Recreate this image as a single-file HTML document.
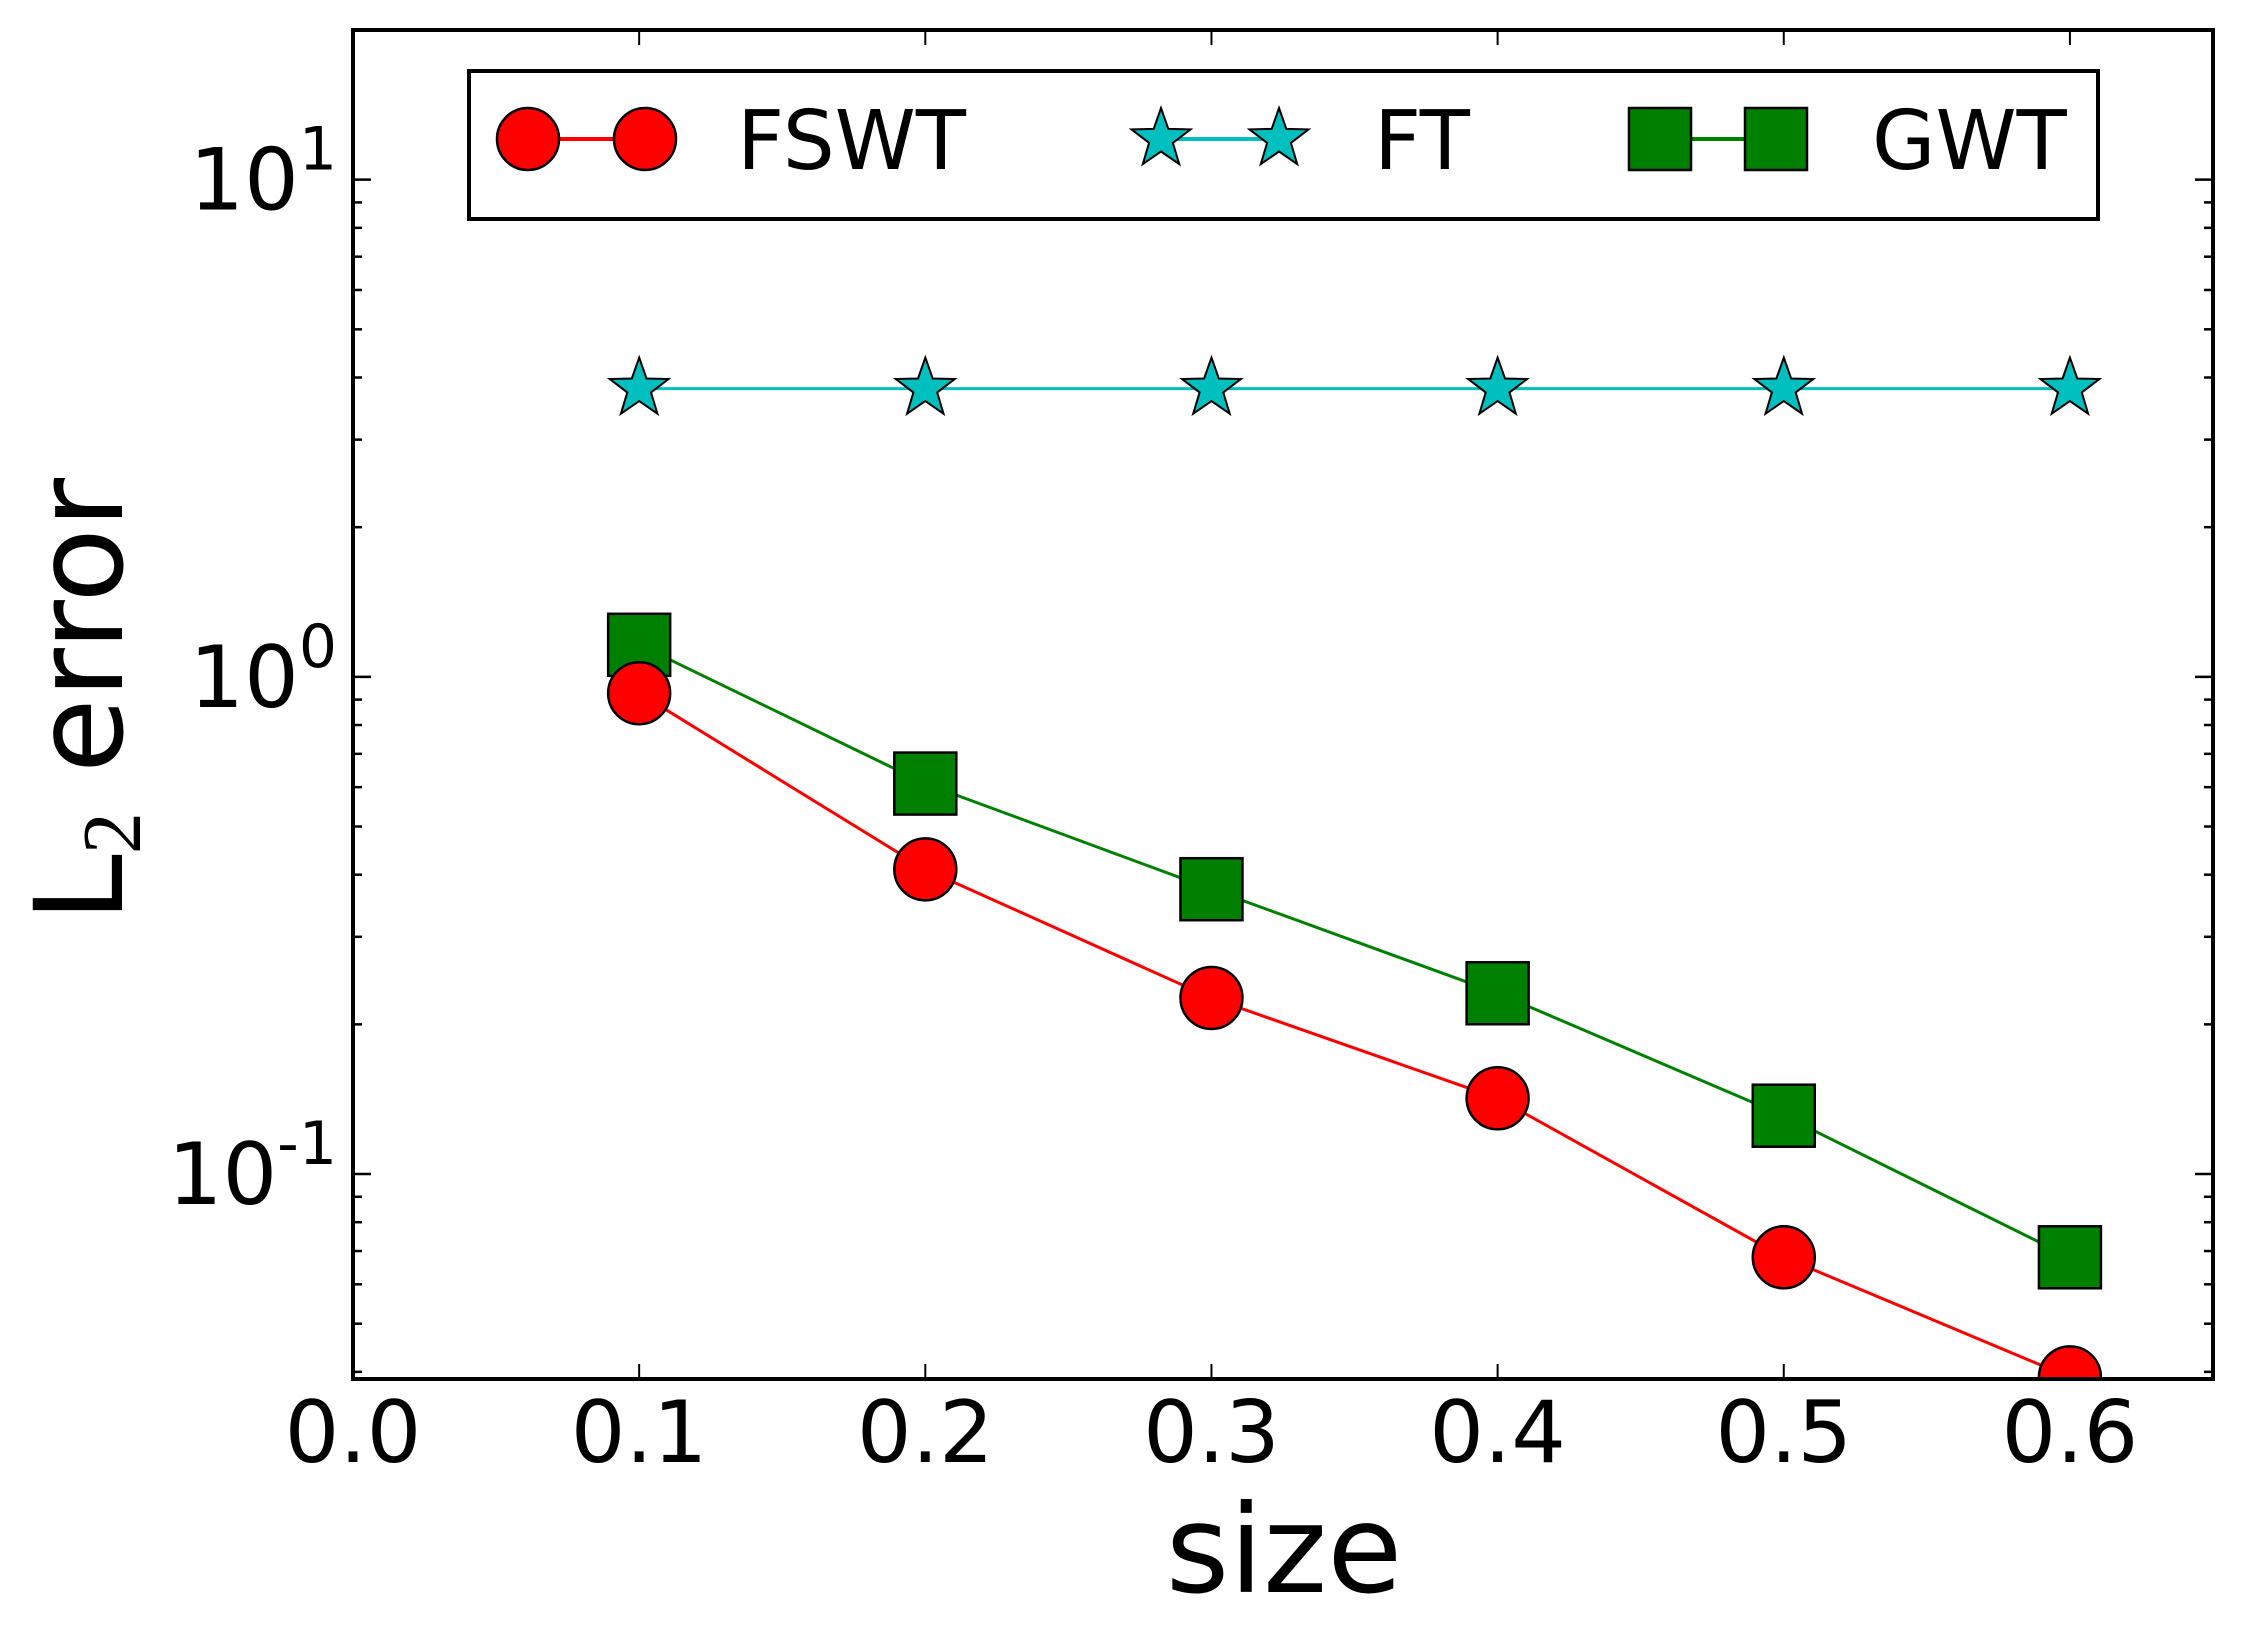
<!DOCTYPE html>
<html><head><meta charset="utf-8"><style>
html,body{margin:0;padding:0;background:#fff;}
svg{display:block;}
text{font-family:"DejaVu Sans","Liberation Sans",sans-serif;fill:#000;}
</style></head><body>
<svg id="chart" xmlns="http://www.w3.org/2000/svg" width="2243" height="1649" viewBox="0 0 2243 1649">
<rect width="2243" height="1649" fill="#fff"/>
<g id="plot"></g>
<text x="1284" y="1592" font-size="122" text-anchor="middle">size</text>
<g transform="translate(122,700) rotate(-90)">
<text x="0" y="0" font-size="122" text-anchor="middle">L<tspan font-family="Liberation Serif, serif" font-size="84" dy="18">2</tspan><tspan dy="-18"> error</tspan></text>
</g>
</svg>
<script>
const xValues = [0.1, 0.2, 0.3, 0.4, 0.5, 0.6];
const fswtValues = [0.927, 0.41, 0.226, 0.142, 0.068, 0.039];
const ftValues = [3.8, 3.8, 3.8, 3.8, 3.8, 3.8];
const gwtValues = [1.16, 0.61, 0.374, 0.231, 0.131, 0.068];
const xTicks = [0.0, 0.1, 0.2, 0.3, 0.4, 0.5, 0.6];
const xTickLabels = ["0.0", "0.1", "0.2", "0.3", "0.4", "0.5", "0.6"];
const yTickExps = [-1, 0, 1];

const NS = "http://www.w3.org/2000/svg";
const L = 353, R = 2213, T = 30, B = 1379;
const xMin = 0, xMax = 0.65;
const yLogMin = Math.log10(0.0387), yLogMax = Math.log10(20);
function xs(v){ return L + (v - xMin) / (xMax - xMin) * (R - L); }
function ys(v){ return B - (Math.log10(v) - yLogMin) / (yLogMax - yLogMin) * (B - T); }
const g = document.getElementById('plot');
function mk(tag, attrs, parent){
  const e = document.createElementNS(NS, tag);
  for (const k in attrs) e.setAttribute(k, attrs[k]);
  (parent || g).appendChild(e);
  return e;
}
function circle(cx, cy, parent){
  return mk('circle', {cx:cx, cy:cy, r:31, fill:'#ff0000', stroke:'#000', 'stroke-width':2.5}, parent);
}
function square(cx, cy, parent){
  return mk('rect', {x:cx-31, y:cy-31, width:62, height:62, fill:'#008000', stroke:'#000', 'stroke-width':2.5}, parent);
}
function star(cx, cy, parent){
  const pts = [];
  for (let i = 0; i < 10; i++){
    const r = i % 2 === 0 ? 31 : 12.5;
    const a = -Math.PI/2 + i * Math.PI/5;
    pts.push((cx + r*Math.cos(a)).toFixed(1) + ',' + (cy + r*Math.sin(a)).toFixed(1));
  }
  return mk('polygon', {points:pts.join(' '), fill:'#00bfbf', stroke:'#000', 'stroke-width':2}, parent);
}

const defs = mk('defs', {});
const cp = mk('clipPath', {id:'clip'}, defs);
mk('rect', {x:L, y:T, width:R-L, height:B-T}, cp);

const ticks = mk('g', {});


xTicks.forEach((v, i) => {
  const x = xs(v);
  mk('line', {x1:x, y1:B, x2:x, y2:B-15, stroke:'#000', 'stroke-width':2}, ticks);
  mk('line', {x1:x, y1:T, x2:x, y2:T+15, stroke:'#000', 'stroke-width':2}, ticks);
  const t = mk('text', {x:x, y:1462, 'font-size':86, 'text-anchor':'middle'}, ticks);
  
  
  t.textContent = xTickLabels[i];
});
for (let e = -2; e <= 1; e++){
  for (let m = 1; m <= 9; m++){
    const v = m * Math.pow(10, e);
    const y = ys(v);
    if (y < T - 0.5 || y > B + 0.5) continue;
    const len = m === 1 ? 18 : 9;
    mk('line', {x1:L, y1:y, x2:L+len, y2:y, stroke:'#000', 'stroke-width':2.5}, ticks);
    mk('line', {x1:R, y1:y, x2:R-len, y2:y, stroke:'#000', 'stroke-width':2.5}, ticks);
  }
}
yTickExps.forEach(ex => {
  const y = ys(Math.pow(10, ex));
  const t = mk('text', {x:337, y:y+30, 'font-size':86, 'text-anchor':'end'}, ticks);
  
  
  const a = document.createElementNS(NS, 'tspan'); a.textContent = '10'; t.appendChild(a);
  const b = document.createElementNS(NS, 'tspan');
  b.setAttribute('font-size', '60'); b.setAttribute('dy', '-40');
  b.textContent = String(ex); t.appendChild(b);
});

function series(vals, color, marker, name){
  const sg = mk('g', {'clip-path':'url(#clip)'});
  
  
  const pts = xValues.map((x, i) => xs(x).toFixed(1) + ',' + ys(vals[i]).toFixed(1)).join(' ');
  mk('polyline', {points:pts, fill:'none', stroke:color, 'stroke-width':3}, sg);
  xValues.forEach((x, i) => {
    const m = marker(xs(x), ys(vals[i]), sg);
    
    
  });
}
series(ftValues, '#00bfbf', star, 'ft-series');
series(gwtValues, '#008000', square, 'gwt-series');
series(fswtValues, '#ff0000', circle, 'fswt-series');

const frame = mk('rect', {x:L, y:T, width:R-L, height:B-T, fill:'none', stroke:'#000', 'stroke-width':4});



const lg = mk('g', {});


mk('rect', {x:469, y:71, width:1629, height:148, fill:'#fff', stroke:'#000', 'stroke-width':4}, lg);
const ly = 139;
const entries = [
  {x1:528, x2:645, tx:737, color:'#ff0000', marker:circle, label:'FSWT'},
  {x1:1161, x2:1279, tx:1374, color:'#00bfbf', marker:star, label:'FT'},
  {x1:1660, x2:1776, tx:1872, color:'#008000', marker:square, label:'GWT'}
];
entries.forEach(en => {
  const eg = mk('g', {}, lg);
  
  
  mk('line', {x1:en.x1, y1:ly, x2:en.x2, y2:ly, stroke:en.color, 'stroke-width':4}, eg);
  en.marker(en.x1, ly, eg);
  en.marker(en.x2, ly, eg);
  const t = mk('text', {x:en.tx, y:169, 'font-size':82}, eg);
  t.textContent = en.label;
});
</script>
</body></html>
